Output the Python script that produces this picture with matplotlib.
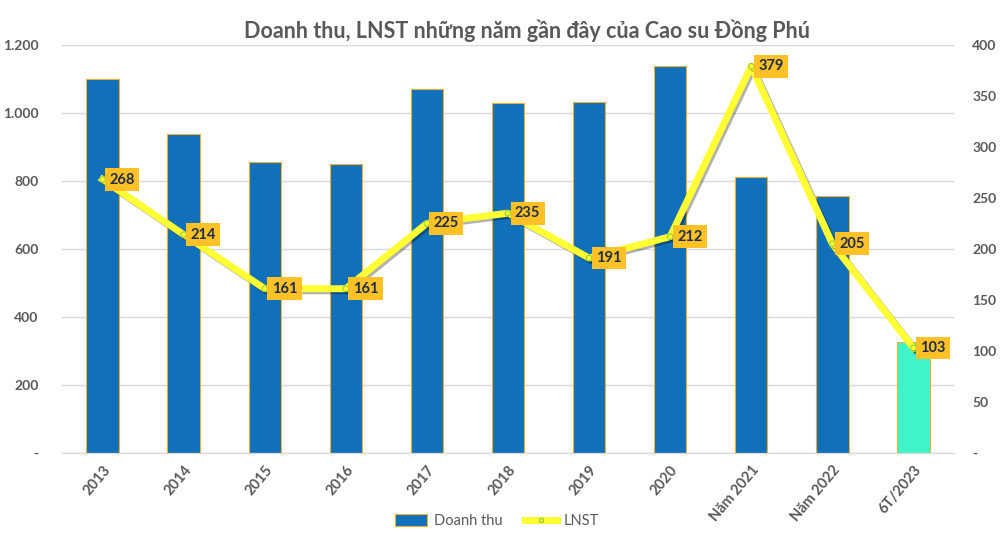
# Doanh thu và LNST của Cao su Đồng Phú qua các năm

import numpy as np
import matplotlib.pyplot as plt
import matplotlib.patheffects as pe
from matplotlib.ticker import FuncFormatter
from matplotlib.lines import Line2D
from matplotlib.patches import Patch

plt.rcParams['font.family'] = ['Lato', 'Open Sans', 'DejaVu Sans']

# Dữ liệu (tỷ đồng)
years = ['2013', '2014', '2015', '2016', '2017', '2018', '2019', '2020',
         'Năm 2021', 'Năm 2022', '6T/2023']
revenue = [1100, 939, 854, 851, 1070, 1029, 1032, 1137, 810, 755, 325]
profit = [268, 214, 161, 161, 225, 235, 191, 212, 379, 205, 103]

gray = '#595959'
blue = '#1170BA'
teal = '#3FF5C8'
gold = '#F2B02E'
yellow = '#FFFF33'

fig = plt.figure(figsize=(10, 5.33), dpi=100)
ax = fig.add_axes([0.062, 0.15, 0.892, 0.766])
ax2 = ax.twinx()

x = np.arange(len(years))
colors = [blue] * (len(years) - 1) + [teal]
ax.bar(x, revenue, width=0.4, color=colors, edgecolor=gold, linewidth=0.8, zorder=2)

ax.set_ylim(0, 1200)
ax.set_yticks(np.arange(0, 1201, 200))
ax.yaxis.set_major_formatter(FuncFormatter(
    lambda v, p: '-' if v == 0 else f'{int(v):,}'.replace(',', '.')))
ax.grid(axis='y', color='#D9D9D9', linewidth=1, zorder=0)
ax.set_axisbelow(True)
ax.set_xlim(-0.5, len(years) - 0.5)
ax.set_xticks(x)
ax.set_xticklabels(years, rotation=50, ha='right', rotation_mode='anchor')

ax2.set_ylim(0, 400)
ax2.set_yticks(np.arange(0, 401, 50))
ax2.yaxis.set_major_formatter(FuncFormatter(
    lambda v, p: '-' if v == 0 else f'{int(v)}'))

for a in (ax, ax2):
    for s in ['top', 'left', 'right']:
        a.spines[s].set_visible(False)
    a.spines['bottom'].set_color('#D9D9D9')
    a.tick_params(length=0, colors=gray, labelsize=10.5)
    for lbl in a.get_xticklabels() + a.get_yticklabels():
        lbl.set_fontweight('bold')
ax.tick_params(axis='y', pad=17, labelsize=10)
ax2.tick_params(axis='y', pad=13, labelsize=10)
ax.tick_params(axis='x', pad=7)

ax2.plot(x, profit, color=yellow, linewidth=5, zorder=3,
         marker='o', markersize=4, markerfacecolor=yellow,
         markeredgecolor='#9ACD32', markeredgewidth=0.8,
         path_effects=[pe.SimpleLineShadow(offset=(1.5, -1.5), alpha=0.3), pe.Normal()])

for xi, v in zip(x, profit):
    ax2.annotate(str(v), (xi, v), xytext=(5, 0), textcoords='offset points',
                 ha='left', va='center', fontsize=10.5, fontweight='bold',
                 color='#1F2D4D', zorder=5,
                 bbox=dict(boxstyle='square,pad=0.3', fc='#FFC125', ec='none'))

fig.text(0.527, 0.943, 'Doanh thu, LNST những năm gần đây của Cao su Đồng Phú',
         ha='center', va='center', fontsize=15.5, fontweight='bold', color=gray)

handles = [Patch(facecolor=blue, edgecolor=gold, linewidth=0.8),
           Line2D([], [], color=yellow, linewidth=5, marker='o', markersize=3,
                  markerfacecolor=yellow, markeredgecolor='#9ACD32')]
fig.legend(handles, ['Doanh thu', 'LNST'], loc='center', bbox_to_anchor=(0.497, 0.022),
           ncol=2, frameon=False, fontsize=10.5, labelcolor=gray,
           handlelength=2.2, handleheight=0.9, columnspacing=1.5, handletextpad=0.5)

fig.savefig('out.png', dpi=100, facecolor='white')
